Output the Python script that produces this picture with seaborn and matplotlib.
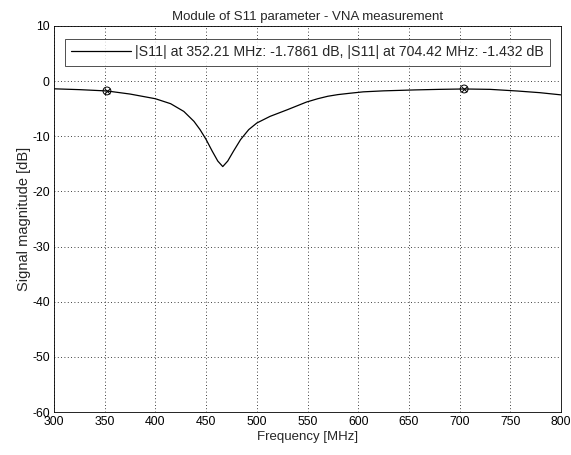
import matplotlib
matplotlib.use("Agg")
import matplotlib.pyplot as plt
import seaborn as sns
import pandas as pd

freq = [300, 325, 352.21, 375, 400, 415, 428, 438, 444, 450, 456, 461.5, 466.4, 471.3, 477, 484, 492, 500, 513, 530, 549, 560, 570, 580, 592, 605, 625, 656, 680, 704.42, 730, 757, 779, 800]
s11 = [-1.4, -1.55, -1.79, -2.35, -3.2, -4.1, -5.5, -7.3, -8.8, -10.6, -12.7, -14.5, -15.5, -14.5, -12.7, -10.6, -8.8, -7.6, -6.4, -5.2, -3.8, -3.2, -2.75, -2.45, -2.2, -1.95, -1.77, -1.6, -1.5, -1.43, -1.5, -1.8, -2.1, -2.5]
mark_f = [352.21, 704.42]
mark_v = [-1.7861, -1.432]
xticks = [300, 350, 400, 450, 500, 550, 600, 650, 700, 750, 800]
yticks = [-60, -50, -40, -30, -20, -10, 0, 10]

sns.set_style("white")
plt.rcParams['font.family'] = ['Liberation Sans', 'DejaVu Sans']
plt.rcParams['font.size'] = 9
plt.rcParams['axes.unicode_minus'] = False

fig = plt.figure(figsize=(5.71, 4.55), dpi=100)
ax = fig.add_axes([0.0946, 0.0945, 0.8880, 0.8485])

df = pd.DataFrame({"f": freq, "v": s11})
label = "|S11| at 352.21 MHz: -1.7861 dB, |S11| at 704.42 MHz: -1.432 dB"
sns.lineplot(data=df, x="f", y="v", ax=ax, color="black", linewidth=0.9, label=label)
ax.scatter(mark_f, mark_v, s=32, facecolors="none", edgecolors="black", linewidths=0.7, zorder=3)
ax.scatter(mark_f, mark_v, s=16, marker="x", color="black", linewidths=0.7, zorder=3)

ax.set_xlim(300, 800)
ax.set_ylim(-60, 10)
ax.set_xticks(xticks)
ax.set_yticks(yticks)
ax.grid(True, linestyle=(0, (1, 3)), color="black", linewidth=0.6)
ax.tick_params(direction="in", length=3, width=0.6, labelsize=8.8, colors="black")
ax.tick_params(axis="x", pad=3)
ax.tick_params(axis="y", pad=3)
for sp in ax.spines.values():
    sp.set_color("black")
    sp.set_linewidth(0.6)
ax.set_xlabel("Frequency [MHz]", fontsize=9.5, labelpad=2)
ax.set_ylabel("Signal magnitude [dB]", fontsize=10.5, labelpad=1)
ax.set_title("Module of S11 parameter - VNA measurement", fontsize=9.5, pad=4)
leg = ax.legend(loc="upper center", fontsize=10.2, frameon=True, fancybox=False,
                edgecolor="black", handlelength=4.2, handletextpad=0.3, borderpad=0.45,
                bbox_to_anchor=(0.5, 0.985))
leg.get_frame().set_linewidth(0.6)
fig.savefig("out.png", dpi=100, facecolor="white")
